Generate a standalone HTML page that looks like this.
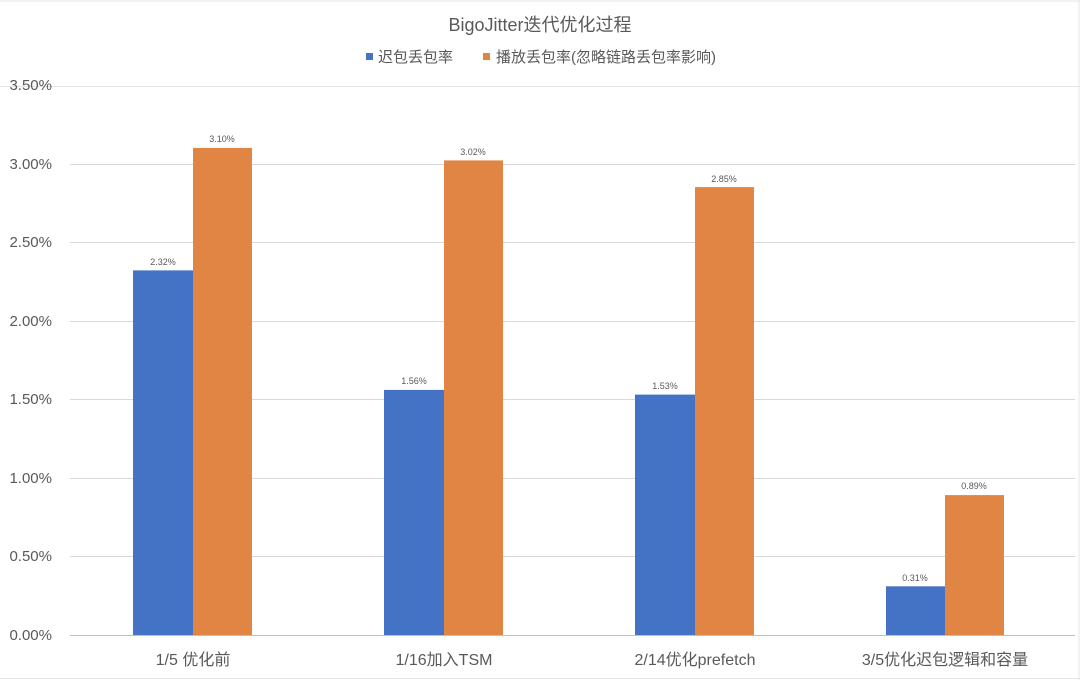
<!DOCTYPE html>
<html><head><meta charset="utf-8"><style>
body{margin:0;background:#fff}
svg text{font-family:"Liberation Sans","Noto Sans CJK SC",sans-serif;fill:#595959}
</style></head><body>
<svg width="1080" height="680" xmlns="http://www.w3.org/2000/svg">
<rect width="1080" height="680" fill="#fff"/>
<line x1="0" y1="1" x2="1080" y2="1" stroke="#e4e4e4"/>
<line x1="0" y1="86.5" x2="1080" y2="86.5" stroke="#e4e4e4"/>
<line x1="0" y1="678.5" x2="1080" y2="678.5" stroke="#e4e4e4"/>
<line x1="1079" y1="0" x2="1079" y2="680" stroke="#e4e4e4"/>
<g stroke="#d9d9d9" stroke-width="1">
<line x1="70" x2="1075" y1="556.5" y2="556.5"/>
<line x1="70" x2="1075" y1="478.5" y2="478.5"/>
<line x1="70" x2="1075" y1="399.5" y2="399.5"/>
<line x1="70" x2="1075" y1="321.5" y2="321.5"/>
<line x1="70" x2="1075" y1="242.5" y2="242.5"/>
<line x1="70" x2="1075" y1="164.5" y2="164.5"/>
</g>
<line x1="70" x2="1075" y1="635.5" y2="635.5" stroke="#bfbfbf"/>
<g font-size="15" text-anchor="end">
<text x="52" y="640">0.00%</text><text x="52" y="561">0.50%</text><text x="52" y="483">1.00%</text><text x="52" y="404">1.50%</text><text x="52" y="326">2.00%</text><text x="52" y="247">2.50%</text><text x="52" y="169">3.00%</text><text x="52" y="90">3.50%</text>
</g>
<g fill="#4472c4">
<rect x="133" y="270.4" width="60" height="364.6"/>
<rect x="384" y="389.9" width="60" height="245.1"/>
<rect x="635" y="394.6" width="60" height="240.4"/>
<rect x="886" y="586.3" width="59" height="48.7"/>
</g>
<g fill="#e08543">
<rect x="193" y="147.9" width="59" height="487.1"/>
<rect x="444" y="160.4" width="59" height="474.6"/>
<rect x="695" y="187.1" width="59" height="447.9"/>
<rect x="945" y="495.1" width="59" height="139.9"/>
</g>
<g font-size="9" text-anchor="middle">
<text x="163" y="265">2.32%</text><text x="222" y="142">3.10%</text>
<text x="414" y="384">1.56%</text><text x="473" y="155">3.02%</text>
<text x="665" y="389">1.53%</text><text x="724" y="182">2.85%</text>
<text x="915" y="581">0.31%</text><text x="974" y="489">0.89%</text>
</g>
<g font-size="16" text-anchor="middle">
<text x="193" y="665">1/5 优化前</text>
<text x="444" y="665">1/16加入TSM</text>
<text x="695" y="665">2/14优化prefetch</text>
<text x="945" y="665">3/5优化迟包逻辑和容量</text>
</g>
<text x="540" y="31" font-size="18" text-anchor="middle">BigoJitter迭代优化过程</text>
<rect x="366" y="53" width="7" height="7" fill="#4472c4"/>
<text x="378" y="62" font-size="15">迟包丢包率</text>
<rect x="483" y="53" width="7" height="7" fill="#e08543"/>
<text x="496" y="62" font-size="15">播放丢包率(忽略链路丢包率影响)</text>
</svg>
</body></html>
